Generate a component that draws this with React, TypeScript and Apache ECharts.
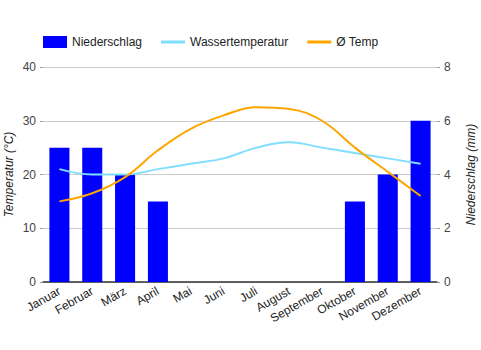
import React, { useEffect, useRef } from "react";
import * as echarts from "echarts";

const months = ["Januar", "Februar", "März", "April", "Mai", "Juni", "Juli", "August", "September", "Oktober", "November", "Dezember"];
const niederschlag = [5, 5, 4, 3, 0, 0, 0, 0, 0, 3, 4, 6];
const wassertemperatur = [21, 20, 20, 21, 22, 23, 25, 26, 25, 24, 23, 22];
const temp = [15, 16.5, 19.5, 24.5, 28.5, 31, 32.5, 32.2, 30, 25, 20.5, 16];
const leftTicks = { min: 0, max: 40, interval: 10 };
const rightTicks = { min: 0, max: 8, interval: 2 };

const FONT = "'Liberation Sans', Arial, sans-serif";
const lineIcon = "path://M0,0 L24,0 L24,3 L0,3 Z";

export default function App() {
  const ref = useRef<HTMLDivElement>(null);
  useEffect(() => {
    if (!ref.current) return;
    const chart = echarts.init(ref.current, undefined, { renderer: "svg" });
    chart.setOption({
      animation: false,
      textStyle: { fontFamily: FONT },
      legend: {
        left: 43,
        top: 36,
        padding: 0,
        itemWidth: 24,
        itemHeight: 12,
        itemGap: 19,
        textStyle: { fontSize: 12, color: "#222", fontFamily: FONT },
        data: [
          { name: "Niederschlag", icon: "rect" },
          { name: "Wassertemperatur", icon: lineIcon, itemStyle: { color: "#80deff" } },
          { name: "Ø Temp", icon: lineIcon, itemStyle: { color: "#ffa500" } },
        ],
      },
      grid: { left: 43, right: 44, top: 67, bottom: 68, containLabel: false, outerBoundsMode: "none" },
      xAxis: {
        type: "category",
        data: months,
        axisLine: { lineStyle: { color: "#333", width: 1.5 } },
        axisTick: { show: false },
        axisLabel: { rotate: 30, fontSize: 12, color: "#222", margin: 8, interval: 0, fontFamily: FONT },
      },
      yAxis: [
        {
          type: "value",
          ...leftTicks,
          name: "Temperatur (°C)",
          nameLocation: "middle",
          nameGap: 28,
          nameMoveOverlap: false,
          nameTextStyle: { fontStyle: "italic", fontSize: 12, color: "#222", fontFamily: FONT },
          axisLine: { show: false },
          axisTick: { show: true, length: 3, lineStyle: { color: "#999" } },
          axisLabel: { fontSize: 12, color: "#444", margin: 7, fontFamily: FONT },
          splitLine: { lineStyle: { color: "#cccccc" } },
        },
        {
          type: "value",
          ...rightTicks,
          position: "right",
          name: "Niederschlag (mm)",
          nameLocation: "middle",
          nameGap: 28,
          nameRotate: 90,
          nameTextStyle: { fontStyle: "italic", fontSize: 12, color: "#222", fontFamily: FONT },
          axisLine: { show: false },
          axisTick: { show: true, length: 3, lineStyle: { color: "#999" } },
          axisLabel: { fontSize: 12, color: "#444", margin: 7, fontFamily: FONT },
          splitLine: { show: false },
        },
      ],
      series: [
        {
          name: "Niederschlag",
          type: "bar",
          yAxisIndex: 1,
          data: niederschlag,
          barWidth: "61%",
          itemStyle: { color: "#0000ff" },
          z: 1,
        },
        {
          name: "Wassertemperatur",
          type: "line",
          yAxisIndex: 0,
          data: wassertemperatur,
          smooth: 0.4,
          symbol: "none",
          lineStyle: { color: "#80deff", width: 2 },
          itemStyle: { color: "#80deff" },
          z: 3,
        },
        {
          name: "Ø Temp",
          type: "line",
          yAxisIndex: 0,
          data: temp,
          smooth: 0.4,
          symbol: "none",
          lineStyle: { color: "#ffa500", width: 2 },
          itemStyle: { color: "#ffa500" },
          z: 4,
        },
      ],
    });
    return () => chart.dispose();
  }, []);
  return <div ref={ref} style={{ position: "absolute", left: 0, top: 0, width: 481, height: 350 }} />;
}
